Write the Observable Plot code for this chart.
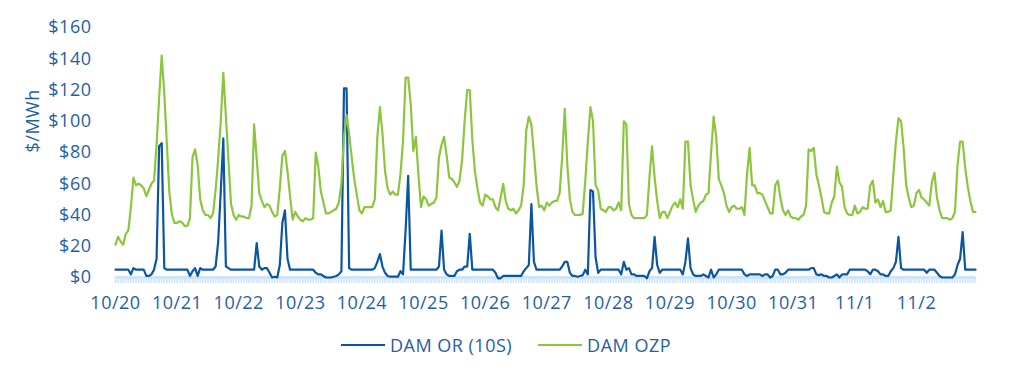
<!DOCTYPE html>
<html>
<head>
<meta charset="utf-8">
<script src="https://cdn.jsdelivr.net/npm/d3@7"></script>
<script src="https://cdn.jsdelivr.net/npm/@observablehq/plot@0.6"></script>
<style>
  html, body { margin: 0; padding: 0; background: #fff; }
  #chart svg { display: block; }
  #legend { display: flex; justify-content: center; align-items: center; height: 40px;
    font-family: "Open Sans", sans-serif; font-size: 18px; letter-spacing: 0.5px; color: #1f5ea8; }
  .item { display: flex; align-items: center; margin: 0 13px; }
  .sw { display: inline-block; width: 44px; height: 2.5px; margin-right: 5px; }
</style>
</head>
<body>
<div id="chart"></div>
<div id="legend"></div>
<script>
// Day labels (one per 24 hourly points)
const dayLabels = ["10/20","10/21","10/22","10/23","10/24","10/25","10/26","10/27","10/28","10/29","10/30","10/31","11/1","11/2"];
const yTicks = [0,20,40,60,80,100,120,140,160];
const seriesNames = ["DAM OR (10S)", "DAM OZP"];

// DAM OR (10S), $/MWh, hourly
const damOR = [
  5,5,5,5,5,5,2,6,5,5,5,5,1,1,2,5,12,84,86,6,5,5,5,5,
  5,5,5,5,5,1,4,6,1,6,5,5,5,5,5,7,23,55,89,7,6,5,5,5,
  5,5,5,5,5,5,5,22,7,5,6,6,3,0,0.5,0,8,35,43,12,5,5,5,5,
  5,5,5,5,5,5,3,2,2,1,0,0,0,0.5,1,2,4,121,121,6,5,5,5,5,
  5,5,5,5,5,6,10,15,7,3,1,0.5,0.5,0.5,0.5,4,2,30,65,5,5,5,5,5,
  5,5,5,5,5,5,7,30,5,2,1,1,1,4,5,5,7,7,28,5,5,5,5,5,
  5,5,5,5,3,-0.5,-0.5,1,1,1,1,1,1,1,1,4,6,8,47,10,5,5,5,5,
  5,5,5,5,5,5,7,10,10,3,1,1,0.5,1,1.5,5,2,56,55,13,3,5,5,5,
  5,5,5,5,5,2,10,5,6,2,2,1,1,1,1,-0.5,4,6,26,8,3,5,5,5,
  5,5,5,5,5,2,10,25,6,2,1,1,1,2,1,0,5,0,2,5,5,5,5,5,
  5,5,5,5,5,2,1,2,2,2,2,2,1,2,2,0,1,5,5,2,2,3,5,5,
  5,5,5,5,5,5,5,6,6,2,1.5,2,1,1,0,0,1,2,0,2,2,2,5,5,
  5,5,5,5,5,4,2,5,5,4,2,2,1,1,4,6,10,26,6,5,5,5,5,5,
  5,5,5,5,3,5,5,5,3,1,0,0,0,0,0,2,8,12,29,5,5,5,5,5
];

// DAM OZP, $/MWh, hourly
const damOZP = [
  21,26,23,21,28,30,45,64,59,60,59,57,52,56,60,62,85,115,142,118,86,54,40,35,
  35,36,35,33,33,38,77,82,72,50,43,40,40,38,41,56,76,100,131,103,75,47,40,37,
  40,39,39,38,38,46,98,76,54,49,45,47,46,42,39,40,57,78,81,68,52,37,42,39,
  37,36,38,37,37,38,80,71,55,48,41,41,42,43,44,48,60,90,104,92,77,63,53,43,
  41,45,45,45,45,50,90,109,92,68,57,53,55,53,53,66,87,128,128,111,81,90,66,45,
  52,50,46,47,48,51,77,85,90,78,64,63,61,58,62,75,100,120,120,88,68,57,48,46,
  53,52,50,50,45,43,51,60,49,44,43,44,41,43,46,59,94,103,98,79,59,45,46,43,
  48,46,48,49,49,54,77,108,72,50,42,40,40,40,41,62,87,109,100,59,56,44,43,42,
  45,45,43,44,48,43,100,98,47,40,38,38,38,38,38,40,64,84,64,49,38,42,42,38,
  42,46,48,45,50,44,87,87,59,50,42,46,48,49,53,54,80,103,90,63,59,54,46,42,
  45,46,44,44,45,40,66,83,59,59,54,54,53,49,45,41,41,59,62,51,43,40,43,39,
  38,38,37,39,40,46,82,81,83,66,59,51,42,41,41,48,52,71,61,58,45,41,40,40,
  46,41,42,45,44,44,59,62,48,50,45,49,42,42,43,66,87,102,100,83,59,51,45,46,
  54,56,51,50,48,46,61,67,51,43,38,38,38,37,38,42,72,87,87,70,58,49,42,42
];

const colors = ["#0b56a4", "#8cc63f"];
const textColor = "#1f5ea8";
const bandColor = "#cfe4f9";

const hours = d3.range(damOR.length);
const rows = hours.flatMap(i => [
  {h: i, v: damOR[i], s: seriesNames[0]},
  {h: i, v: damOZP[i], s: seriesNames[1]}
]);

const chart = Plot.plot({
  width: 1012,
  height: 325,
  marginLeft: 115,
  marginRight: 37,
  marginTop: 27,
  marginBottom: 48,
  style: {fontFamily: "'Open Sans', sans-serif", fontSize: "18px", letterSpacing: "0.5px", color: textColor, background: "#fff", overflow: "visible"},
  x: {domain: [0, hours.length - 1]},
  y: {domain: [0, 160]},
  color: {domain: seriesNames, range: colors},
  marks: [
    Plot.ruleY([0], {stroke: bandColor, strokeWidth: 3}),
    Plot.axisX({ticks: hours, tickSize: 6, tickFormat: () => "", stroke: bandColor, strokeWidth: 1.6, label: null}),
    Plot.axisX({ticks: d3.range(0, hours.length, 24), tickSize: 0, tickPadding: 19,
      tickFormat: d => dayLabels[d / 24], fill: textColor, fontSize: 18, label: null}),
    Plot.axisY({ticks: yTicks, tickSize: 0, tickPadding: 24, tickFormat: d => "$" + d, fill: textColor, fontSize: 18, label: null}),
    Plot.text(["$/MWh"], {frameAnchor: "left", rotate: -90, dx: -82, fill: textColor, fontSize: 18}),
    Plot.line(rows, {x: "h", y: "v", z: "s", stroke: "s", strokeWidth: 2.2, curve: "linear"})
  ]
});
document.getElementById("chart").append(chart);

const legend = document.getElementById("legend");
seriesNames.forEach((name, k) => {
  const item = document.createElement("div");
  item.className = "item";
  const sw = document.createElement("span");
  sw.className = "sw";
  sw.style.background = colors[k];
  const t = document.createElement("span");
  t.textContent = name;
  item.append(sw, t);
  legend.append(item);
});
</script>
</body>
</html>
